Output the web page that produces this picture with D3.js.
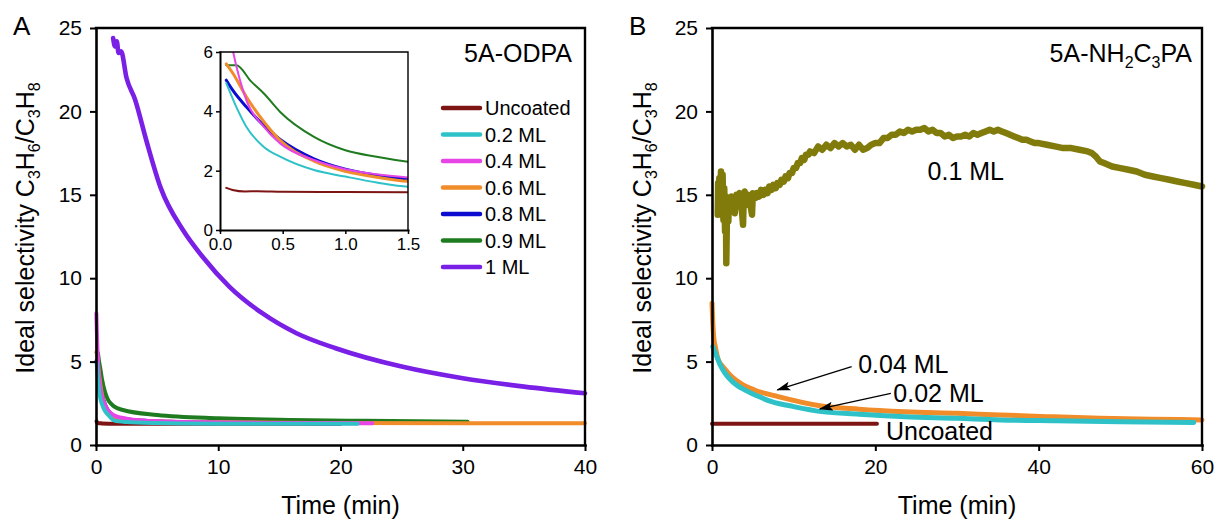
<!DOCTYPE html>
<html>
<head>
<meta charset="utf-8">
<script src="https://cdn.jsdelivr.net/npm/d3@7"></script>
<style>
  body { margin: 0; background: #fff; }
  text { font-family: "Liberation Sans", Arial, sans-serif; fill: #000; }
</style>
</head>
<body>
<svg width="1214" height="519"></svg>
<script>
// ---- data: [time (min), selectivity] ----
var seriesA = ["Uncoated", "0.2 ML", "0.4 ML", "0.6 ML", "0.8 ML", "0.9 ML", "1 ML"];
var uncoatedA = [[0.05,1.42],[0.1,1.35],[0.2,1.3],[0.3,1.31],[0.5,1.29],[1,1.28],[3,1.27],[10,1.27],[20,1.27]];
var ml02A = [[0.05,4.95],[0.13,4.15],[0.21,3.48],[0.35,2.8],[0.48,2.47],[0.75,2.02],[1.0,1.8],[1.25,1.6],[1.5,1.46],[2.5,1.38],[5,1.32],[10,1.28],[15,1.27],[21.4,1.27]];
var ml04A = [[0.03,7.9],[0.06,7.0],[0.1,6.1],[0.21,4.38],[0.35,3.48],[0.48,2.92],[0.75,2.36],[1.0,2.05],[1.25,1.88],[1.5,1.77],[2.5,1.58],[5,1.42],[10,1.35],[15,1.32],[22.6,1.3]];
var ml06A = [[0.05,5.6],[0.1,5.3],[0.21,4.49],[0.35,3.65],[0.48,3.02],[0.75,2.32],[1.0,1.98],[1.25,1.78],[1.5,1.64],[3,1.48],[6,1.4],[10,1.36],[20,1.32],[30,1.3],[40,1.3]];
var ml08A = [[0.05,5.05],[0.1,4.72],[0.21,4.15],[0.35,3.52],[0.48,3.05],[0.75,2.4],[1.0,2.05],[1.25,1.85],[1.5,1.72],[3,1.5],[6,1.4],[10,1.35],[20,1.3]];
var ml09A = [[0.05,5.55],[0.13,5.55],[0.25,5.0],[0.35,4.6],[0.48,3.98],[0.75,3.14],[1.0,2.69],[1.25,2.47],[1.5,2.3],[2.2,2.1],[5,1.8],[10,1.6],[16,1.5],[22,1.45],[30.4,1.4]];
var ml1A = [[1.4,24.4],[1.55,23.9],[1.7,24.2],[1.85,23.5],[2.05,23.6],[2.5,22.0],[3.2,20.7],[4.1,18.3],[5.3,15.4],[7.1,12.9],[8.7,11.3],[10.9,9.5],[13.6,7.9],[16.4,6.7],[19.6,5.8],[25,4.7],[30,4.0],[35,3.5],[40,3.1]];

var uncoatedB = [[0,1.27],[5,1.27],[10,1.27],[15,1.27],[20.2,1.27]];
var ml002B = [[0.1,5.9],[0.5,5.4],[1.0,4.8],[1.6,4.3],[2.5,3.8],[4.0,3.3],[5.5,2.95],[7.3,2.6],[10,2.3],[13.4,2.0],[18,1.85],[23.6,1.7],[30,1.6],[35.3,1.5],[42,1.45],[50,1.4],[59,1.35]];
var ml004B = [[0,8.5],[0.1,7.3],[0.2,6.5],[0.4,5.9],[0.78,5.1],[1.5,4.6],[2.4,4.1],[3.5,3.7],[5.2,3.3],[8.1,2.9],[13.4,2.34],[18,2.15],[23.6,2.0],[30,1.9],[35.3,1.8],[41,1.7],[47.5,1.6],[54,1.55],[60,1.5]];
var ml01B = [[0.7,13.8],[0.75,15.7],[0.8,14.0],[0.9,16.0],[1.0,14.2],[1.1,16.4],[1.2,14.0],[1.3,16.2],[1.4,13.5],[1.5,15.4],[1.6,12.8],[1.7,14.9],[1.75,10.9],[1.85,14.6],[2.0,13.4],[2.1,14.8],[2.2,14.0],[2.4,14.9],[2.5,14.2],[2.6,14.8],[2.8,13.9],[3.0,15.0],[3.2,14.3],[3.4,15.1],[3.6,14.5],[3.8,13.2],[3.9,15.0],[4.0,15.2],[4.2,14.4],[4.4,15.0],[4.6,14.7],[4.9,13.8],[5.0,15.1],[5.3,14.8],[5.5,15.1],[5.8,14.9],[6,15.3],[6.3,15.0],[6.5,15.3],[6.8,15.1],[7,15.5],[7.3,15.3],[7.5,15.6],[7.8,15.4],[8,15.7],[8.3,15.6],[8.5,15.9],[8.8,15.8],[9,16.1],[9.3,16.0],[9.5,16.3],[9.8,16.3],[10,16.6],[10.3,16.6],[10.5,16.9],[10.8,16.9],[11,17.2],[11.3,17.1],[11.5,17.4],[11.8,17.4],[12,17.6],[12.5,17.5],[13,17.9],[13.5,17.7],[14,18.0],[14.5,17.8],[15,18.1],[15.5,17.9],[16,18.1],[16.5,17.9],[17,18.0],[17.5,17.7],[18,18.0],[18.5,17.7],[19,17.8],[19.5,18.0],[20,18.1],[20.5,18.1],[21,18.4],[21.5,18.4],[22,18.6],[22.5,18.6],[23,18.8],[23.5,18.7],[24,18.9],[24.5,18.8],[25,18.9],[25.5,18.9],[26,19.0],[26.5,18.8],[27,18.9],[27.5,18.7],[28,18.7],[28.5,18.5],[29,18.6],[29.5,18.4],[30,18.5],[30.5,18.5],[31,18.6],[31.5,18.5],[32,18.7],[32.5,18.6],[33,18.7],[33.5,18.8],[34,18.9],[34.5,18.8],[35,18.9],[35.5,18.8],[36,18.7],[36.5,18.6],[37,18.5],[37.5,18.4],[38,18.3],[38.5,18.3],[39,18.2],[39.5,18.1],[40,18.1],[41,18.0],[42,17.9],[43,17.8],[44,17.8],[45,17.7],[46,17.6],[46.5,17.5],[47,17.3],[47.5,17.0],[48,16.9],[48.5,16.8],[49,16.7],[50,16.6],[51,16.5],[52,16.4],[53,16.2],[54,16.1],[55,16.0],[56,15.9],[57,15.8],[58,15.7],[59,15.6],[60,15.5]];

var ticksAx = [0, 10, 20, 30, 40];
var ticksBx = [0, 20, 40, 60];
var ticksY = [0, 5, 10, 15, 20, 25];
var ticksInsetX = [0, 0.5, 1.0, 1.5];
var ticksInsetY = [0, 2, 4, 6];

// labels / arrows for panel B, in data units
var labelsB = [
  { text: "0.1 ML", t: 26.4, v: 15.9 },
  { text: "0.04 ML", t: 17.9, v: 4.3 },
  { text: "0.02 ML", t: 22.2, v: 2.6 },
  { text: "Uncoated", t: 21.3, v: 0.3 }
];
var arrowsB = [
  { from: [17.1, 4.7], to: [8.0, 3.3] },
  { from: [21.9, 3.1], to: [13.2, 2.16] }
];

var colours = {
  "Uncoated": "#7d1515", "0.2 ML": "#2ec2c8", "0.4 ML": "#e646e6", "0.6 ML": "#f08c2a",
  "0.8 ML": "#0c0cd0", "0.9 ML": "#1f7b1f", "1 ML": "#7a1fe6", "0.1 ML": "#817b0c"
};
var dataA = {
  "Uncoated": uncoatedA, "0.2 ML": ml02A, "0.4 ML": ml04A, "0.6 ML": ml06A,
  "0.8 ML": ml08A, "0.9 ML": ml09A, "1 ML": ml1A
};

var svg = d3.select("svg");
svg.append("rect").attr("width", 1214).attr("height", 519).attr("fill", "#fff");

var defs = svg.append("defs");
defs.append("marker").attr("id", "arrow")
  .attr("markerUnits", "userSpaceOnUse")
  .attr("markerWidth", 14).attr("markerHeight", 9)
  .attr("refX", 13).attr("refY", 4.5).attr("orient", "auto")
  .append("path").attr("d", "M0,0L14,4.5L0,9L3,4.5Z").attr("fill", "#000");

var xA = d3.scaleLinear().domain([0, 40]).range([96, 585]);
var yA = d3.scaleLinear().domain([0, 25]).range([445, 28]);
var xI = d3.scaleLinear().domain([0, 1.5]).range([220, 408]);
var yI = d3.scaleLinear().domain([0, 6]).range([230, 52]);
var xB = d3.scaleLinear().domain([0, 60]).range([712, 1202]);
var yB = d3.scaleLinear().domain([0, 25]).range([445, 28]);

function lineFor(x, y, curve) {
  return d3.line().x(function (d) { return x(d[0]); }).y(function (d) { return y(d[1]); })
    .curve(curve || d3.curveMonotoneX);
}

function drawSeries(g, data, colour, width, x, y, curve) {
  g.append("path").datum(data)
    .attr("d", lineFor(x, y, curve))
    .attr("fill", "none").attr("stroke", colour)
    .attr("stroke-width", width).attr("stroke-linejoin", "round").attr("stroke-linecap", "round");
}

function axes(x, y, xt, yt, o) {
  var x0 = x.range()[0], x1 = x.range()[1], y0 = y.range()[0], y1 = y.range()[1];
  var gx = svg.append("g").attr("transform", "translate(0," + y0 + ")")
    .call(d3.axisBottom(x).tickValues(xt).tickSize(o.tick).tickSizeOuter(0).tickPadding(o.padX).tickFormat(o.fmtX));
  var gy = svg.append("g").attr("transform", "translate(" + x0 + ",0)")
    .call(d3.axisLeft(y).tickValues(yt).tickSize(o.tick).tickSizeOuter(0).tickPadding(o.padY).tickFormat(d3.format("d")));
  [gx, gy].forEach(function (g) {
    g.attr("font-size", o.fs).attr("font-family", null);
    g.select(".domain").attr("stroke-width", o.lw).attr("stroke-linecap", "square");
    g.selectAll(".tick line").attr("stroke-width", o.tw);
    g.selectAll(".tick text").attr("font-size", o.fs).attr("fill", "#000");
  });
  svg.append("path").attr("d", "M" + x0 + "," + y1 + "H" + x1 + "V" + y0)
    .attr("fill", "none").attr("stroke", "#000").attr("stroke-width", o.lw2).attr("stroke-linecap", "square");
}

// text with subscripts: the tspan after a subscript moves back up
function subText(sel, parts, subSize, shift) {
  var back = 0;
  parts.forEach(function (p) {
    if (p.sub) {
      sel.append("tspan").attr("font-size", subSize).attr("dy", shift - back).text(p.sub);
      back = shift;
    } else {
      sel.append("tspan").attr("dy", -back).text(p.t);
      back = 0;
    }
  });
}

var yLabelParts = [{ t: "Ideal selectivity C" }, { sub: "3" }, { t: "H" }, { sub: "6" }, { t: "/C" }, { sub: "3" }, { t: "H" }, { sub: "8" }];

// ---------------- Panel A ----------------
var gA = svg.append("g");
["Uncoated", "0.8 ML", "0.9 ML", "0.6 ML", "0.4 ML", "0.2 ML", "1 ML"].forEach(function (s) {
  drawSeries(gA, dataA[s], colours[s], s === "1 ML" ? 4.6 : 4, xA, yA);
});
axes(xA, yA, ticksAx, ticksY, { tick: 6, padX: 8, padY: 8, fs: 21, lw: 2.6, tw: 2, lw2: 2.4, fmtX: d3.format("d") });

// inset
defs.append("clipPath").attr("id", "insetClip").append("rect")
  .attr("x", xI.range()[0]).attr("y", yI.range()[1])
  .attr("width", xI.range()[1] - xI.range()[0]).attr("height", yI.range()[0] - yI.range()[1]);
var gI = svg.append("g").attr("clip-path", "url(#insetClip)");
var insetWidths = { "Uncoated": 2, "0.2 ML": 2, "0.4 ML": 2, "0.6 ML": 3, "0.8 ML": 3, "0.9 ML": 2 };
["Uncoated", "0.9 ML", "0.8 ML", "0.6 ML", "0.4 ML", "0.2 ML"].forEach(function (s) {
  drawSeries(gI, dataA[s], colours[s], insetWidths[s], xI, yI);
});
axes(xI, yI, ticksInsetX, ticksInsetY, { tick: 4, padX: 4, padY: 3, fs: 17, lw: 2, tw: 1.5, lw2: 1.4, fmtX: d3.format(".1f") });

// legend
var legend = svg.append("g");
seriesA.forEach(function (s, i) {
  var yy = 108 + i * 26.5;
  legend.append("line").attr("x1", 443).attr("x2", 480).attr("y1", yy).attr("y2", yy)
    .attr("stroke", colours[s]).attr("stroke-width", 4.5).attr("stroke-linecap", "round");
  legend.append("text").attr("x", 485).attr("y", yy).attr("dy", "0.36em").attr("font-size", 20).text(s);
});
svg.append("text").attr("x", 572).attr("y", 62).attr("text-anchor", "end").attr("font-size", 25).text("5A-ODPA");

svg.append("text").attr("x", 13).attr("y", 35).attr("font-size", 26).text("A");
subText(svg.append("text").attr("transform", "translate(34,228) rotate(-90)")
  .attr("text-anchor", "middle").attr("font-size", 25), yLabelParts, 16, 6);
svg.append("text").attr("x", (xA.range()[0] + xA.range()[1]) / 2).attr("y", 514)
  .attr("text-anchor", "middle").attr("font-size", 25).text("Time (min)");

// ---------------- Panel B ----------------
var gB = svg.append("g");
drawSeries(gB, uncoatedB, colours["Uncoated"], 4, xB, yB);
drawSeries(gB, ml004B, colours["0.6 ML"], 5, xB, yB);
drawSeries(gB, ml002B, colours["0.2 ML"], 5, xB, yB);
drawSeries(gB, ml01B, colours["0.1 ML"], 6.5, xB, yB, d3.curveLinear);
axes(xB, yB, ticksBx, ticksY, { tick: 6, padX: 8, padY: 8, fs: 21, lw: 2.6, tw: 2, lw2: 2.4, fmtX: d3.format("d") });

arrowsB.forEach(function (a) {
  svg.append("line")
    .attr("x1", xB(a.from[0])).attr("y1", yB(a.from[1]))
    .attr("x2", xB(a.to[0])).attr("y2", yB(a.to[1]))
    .attr("stroke", "#000").attr("stroke-width", 1.3).attr("marker-end", "url(#arrow)");
});
labelsB.forEach(function (l) {
  svg.append("text").attr("x", xB(l.t)).attr("y", yB(l.v)).attr("font-size", 25).text(l.text);
});

subText(svg.append("text").attr("x", 1192).attr("y", 62).attr("text-anchor", "end").attr("font-size", 25),
  [{ t: "5A-NH" }, { sub: "2" }, { t: "C" }, { sub: "3" }, { t: "PA" }], 16, 6);

svg.append("text").attr("x", 629).attr("y", 35).attr("font-size", 26).text("B");
subText(svg.append("text").attr("transform", "translate(651,228) rotate(-90)")
  .attr("text-anchor", "middle").attr("font-size", 25), yLabelParts, 16, 6);
svg.append("text").attr("x", (xB.range()[0] + xB.range()[1]) / 2).attr("y", 514)
  .attr("text-anchor", "middle").attr("font-size", 25).text("Time (min)");
</script>
</body>
</html>
